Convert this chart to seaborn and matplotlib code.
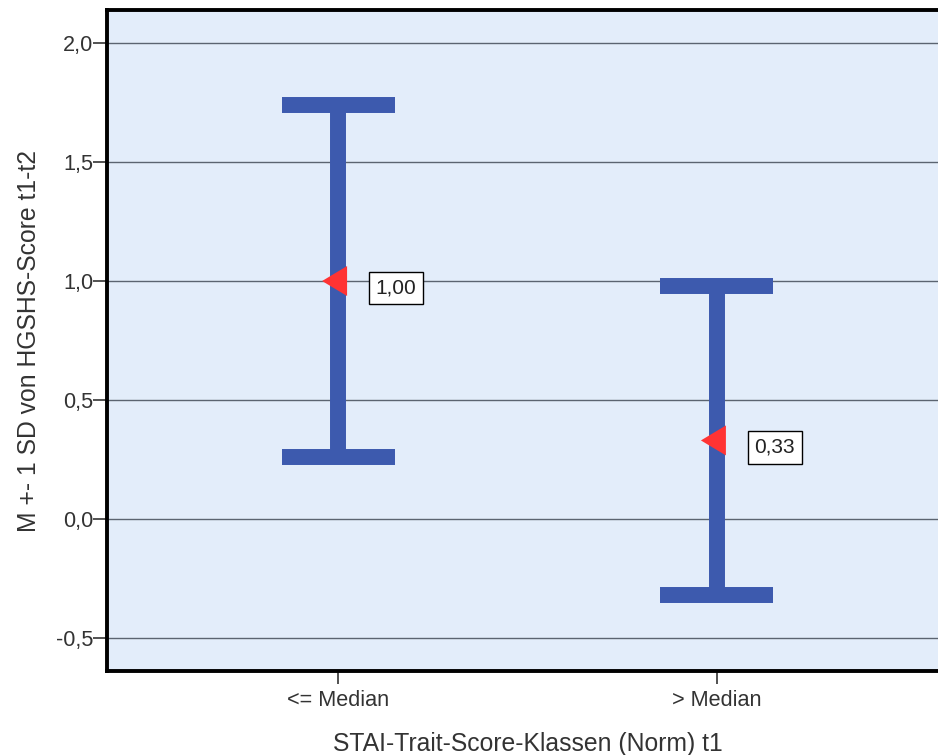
import numpy as np
import pandas as pd
import matplotlib
matplotlib.use("Agg")
import matplotlib.pyplot as plt
from matplotlib.path import Path
import seaborn as sns

# Summary statistics per group
groups = ["<= Median", "> Median"]
means = [1.00, 0.33]
sds = [0.74, 0.65]
mean_labels = ["1,00", "0,33"]

y_ticks = [-0.5, 0.0, 0.5, 1.0, 1.5, 2.0]
y_tick_labels = ["-0,5", "0,0", "0,5", "1,0", "1,5", "2,0"]

sns.set_theme(style="white")
plt.rcParams["font.family"] = ["Liberation Sans", "DejaVu Sans"]

W, H = 938, 755
fig = plt.figure(figsize=(W / 100, H / 100), dpi=100)
fig.patch.set_facecolor("white")
ax = fig.add_axes([107 / W, (H - 671) / H, 841 / W, 661 / H])
ax.set_facecolor("#E3EDFA")

df = pd.DataFrame({"group": groups, "mean": means, "sd": sds})
df["x"] = np.arange(len(df))
df["lo"] = df["mean"] - df["sd"]
df["hi"] = df["mean"] + df["sd"]

bar_color = "#3D5AAE"
bar_lw = 11.5
cap_half = 0.149

# horizontal reference lines
for t in y_ticks:
    ax.axhline(t, color="#5B6470", lw=1.0, zorder=1)

# +/- 1 SD bars with caps
ax.vlines(df["x"], df["lo"], df["hi"], color=bar_color, lw=bar_lw, zorder=3)
ax.hlines(df["hi"], df["x"] - cap_half, df["x"] + cap_half, color=bar_color, lw=bar_lw, zorder=3)
ax.hlines(df["lo"], df["x"] - cap_half, df["x"] + cap_half, color=bar_color, lw=bar_lw, zorder=3)

# mean markers (left-pointing triangle)
tri = Path([(-1.0, 0.0), (0.5625, 0.9375), (0.5625, -0.9375), (-1.0, 0.0)],
           [Path.MOVETO, Path.LINETO, Path.LINETO, Path.CLOSEPOLY])
sns.scatterplot(data=df, x="x", y="mean", marker=tri, s=530, color="#FF3333",
                edgecolor="none", linewidth=0, zorder=4, ax=ax, legend=False)

# value labels
for xv, m, lab in zip(df["x"], df["mean"], mean_labels):
    ax.annotate(lab, xy=(xv, m), xytext=(58, -7), textcoords="offset pixels",
                ha="center", va="center", fontsize=15, color="#222222", zorder=5,
                bbox=dict(boxstyle="square,pad=0.33", fc="white", ec="black", lw=1.0))

ax.set_xlim(-0.61, 1.61)
ax.set_ylim(-0.639, 2.139)
ax.set_xticks(df["x"])
ax.set_xticklabels(groups)
ax.set_yticks(y_ticks)
ax.set_yticklabels(y_tick_labels)
ax.tick_params(axis="y", direction="out", length=10, width=1.2, color="#333333",
               pad=0, labelsize=15.6, labelcolor="#333333", left=True)
ax.tick_params(axis="x", direction="out", length=9.5, width=1.2, color="#333333",
               pad=4, labelsize=15.6, labelcolor="#333333", bottom=True)

for side in ["left", "bottom", "top", "right"]:
    ax.spines[side].set_visible(True)
    ax.spines[side].set_color("black")
    ax.spines[side].set_linewidth(2.8)

ax.set_xlabel("STAI-Trait-Score-Klassen (Norm) t1", fontsize=17.8, color="#333333", labelpad=15)
ax.set_ylabel("M +- 1 SD von HGSHS-Score t1-t2", fontsize=17.8, color="#333333", labelpad=10.5)

fig.savefig("out.png", dpi=100)
